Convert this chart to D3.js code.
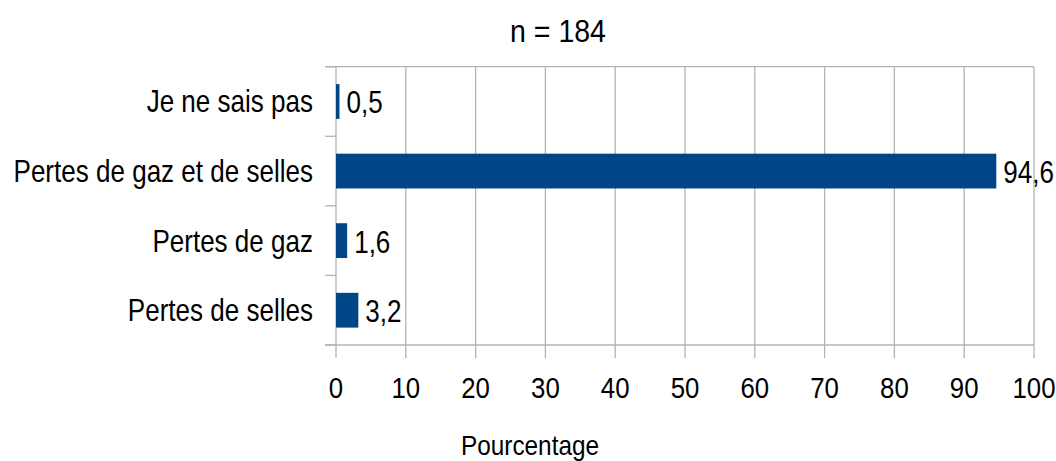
<!DOCTYPE html>
<html>
<head>
<meta charset="utf-8">
<script src="https://cdn.jsdelivr.net/npm/d3@7"></script>
<style>
  body { margin: 0; background: #fff; }
  svg text { font-family: "Liberation Sans", Arial, sans-serif; fill: #000; }
</style>
</head>
<body>
<svg class="chart"></svg>
<script>
let categories = ["Je ne sais pas", "Pertes de gaz et de selles", "Pertes de gaz", "Pertes de selles"];
let values = [0.5, 94.6, 1.6, 3.2];
let xTicks = [0, 10, 20, 30, 40, 50, 60, 70, 80, 90, 100];
let title = "n = 184";
let xTitle = "Pourcentage";

let w = 1056, h = 461;
let plotLeft = 336, plotRight = 1034, plotTop = 66.7, plotBottom = 345;
let gridColor = "#b3b3b3";

var svg = d3.select(".chart")
            .attr("width", w)
            .attr("height", h);

var x = d3.scaleLinear().domain([0, 100]).range([plotLeft, plotRight]);
var y = d3.scaleBand().domain(categories).range([plotTop, plotBottom])
          .paddingInner(0.5).paddingOuter(0.25);

var fmt = v => String(v).replace(".", ",");
// the reference uses a narrow face, so squeeze the text horizontally
var place = (tx, ty, s) => "translate(" + tx + "," + ty + ") scale(" + (s || 0.84) + ",1)";

// vertical gridlines
svg.append("g")
   .selectAll("line")
   .data(xTicks)
   .enter().append("line")
   .attr("x1", d => x(d)).attr("x2", d => x(d))
   .attr("y1", plotTop).attr("y2", plotBottom + 13)
   .attr("stroke", gridColor).attr("stroke-width", 1.3);

// top border
svg.append("line")
   .attr("x1", plotLeft - 11).attr("x2", plotRight)
   .attr("y1", plotTop).attr("y2", plotTop)
   .attr("stroke", gridColor).attr("stroke-width", 1.3);

// bottom axis line
svg.append("line")
   .attr("x1", plotLeft - 11).attr("x2", plotRight)
   .attr("y1", plotBottom).attr("y2", plotBottom)
   .attr("stroke", gridColor).attr("stroke-width", 1.3);

// category ticks at band boundaries
var step = y.step();
var bounds = d3.range(categories.length + 1).map(i => plotTop + i * step);
svg.append("g")
   .selectAll("line")
   .data(bounds)
   .enter().append("line")
   .attr("x1", plotLeft - 11).attr("x2", plotLeft)
   .attr("y1", d => d).attr("y2", d => d)
   .attr("stroke", gridColor).attr("stroke-width", 1.3);

// x tick labels
svg.append("g")
   .selectAll("text")
   .data(xTicks)
   .enter().append("text")
   .attr("transform", d => place(x(d), 398, 0.86))
   .attr("text-anchor", "middle")
   .attr("font-size", "30px")
   .text(d => d);

// category labels
svg.append("g")
   .selectAll("text")
   .data(categories)
   .enter().append("text")
   .attr("transform", d => place(313, y(d) + y.bandwidth() / 2 + 11))
   .attr("text-anchor", "end")
   .attr("font-size", "31px")
   .text(d => d);

// bars
svg.append("g")
   .selectAll("rect")
   .data(values)
   .enter().append("rect")
   .attr("x", x(0))
   .attr("y", (d, i) => y(categories[i]))
   .attr("width", d => x(d) - x(0))
   .attr("height", y.bandwidth())
   .attr("fill", "#004586");

// value labels
svg.append("g")
   .selectAll("text")
   .data(values)
   .enter().append("text")
   .attr("transform", (d, i) => place(x(d) + 7, y(categories[i]) + y.bandwidth() / 2 + 12))
   .attr("font-size", "31px")
   .text(d => fmt(d));

svg.append("text")
   .attr("transform", place(558, 42, 0.92))
   .attr("text-anchor", "middle")
   .attr("font-size", "31px")
   .text(title);

svg.append("text")
   .attr("transform", place(530, 455, 0.87))
   .attr("text-anchor", "middle")
   .attr("font-size", "28px")
   .text(xTitle);
</script>
</body>
</html>
